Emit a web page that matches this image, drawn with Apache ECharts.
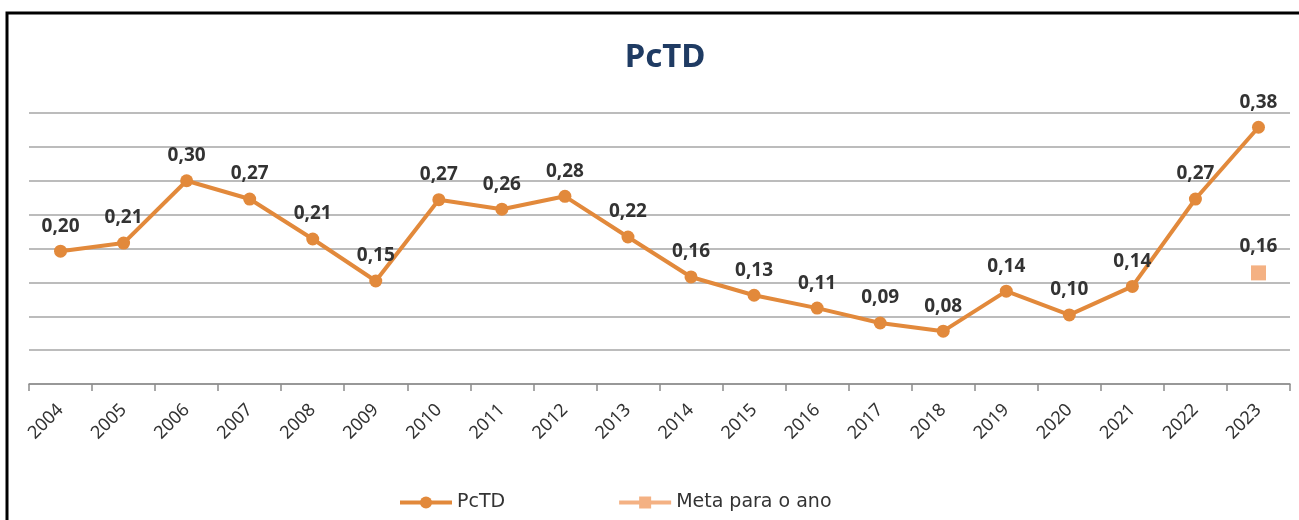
<!DOCTYPE html>
<html>
<head>
<meta charset="utf-8">
<title>PcTD</title>
<script src="https://cdn.jsdelivr.net/npm/echarts@6/dist/echarts.min.js"></script>
<style>
	html, body { margin: 0; padding: 0; background: #fff; }
	#chart { width: 1299px; height: 520px; }
</style>
</head>
<body>
<div id="chart"></div>
<script>
	var anos = ["2004", "2005", "2006", "2007", "2008", "2009", "2010", "2011", "2012", "2013",
		"2014", "2015", "2016", "2017", "2018", "2019", "2020", "2021", "2022", "2023"];
	// valores (rótulos com 2 casas)
	var pctd = [0.196, 0.208, 0.300, 0.273, 0.214, 0.152, 0.272, 0.258, 0.277, 0.217,
		0.158, 0.131, 0.112, 0.090, 0.078, 0.137, 0.102, 0.144, 0.273, 0.379];
	var meta = [null, null, null, null, null, null, null, null, null, null,
		null, null, null, null, null, null, null, null, null, 0.164];

	var fonte = '"Noto Sans", "Open Sans", sans-serif';
	var laranja = '#e2893b';
	var salmao = '#f4b183';

	function fmt(p) {
		return (Math.round(p.value * 100) / 100).toFixed(2).replace('.', ',');
	}

	var rotulo = {
		show: true,
		position: 'top',
		distance: 9,
		formatter: fmt,
		fontFamily: fonte,
		fontWeight: 'bold',
		fontSize: 19,
		color: '#333'
	};

	var chart = echarts.init(document.getElementById('chart'), null, { renderer: 'canvas' });

	var option = {
		backgroundColor: '#fff',
		animation: false,
		title: {
			text: 'PcTD',
			left: 660,
			top: 36,
			textAlign: 'center',
			textStyle: {
				fontFamily: fonte,
				fontWeight: 'bold',
				fontSize: 33,
				color: '#1f3b63'
			}
		},
		graphic: [{
			type: 'rect',
			shape: { x: 7, y: 13, width: 1320, height: 540 },
			style: { fill: 'none', stroke: '#000', lineWidth: 3 },
			silent: true
		}],
		legend: {
			bottom: 3,
			left: 393,
			itemGap: 112,
			itemWidth: 52,
			itemHeight: 15,
			textStyle: { fontFamily: 'Verdana, "DejaVu Sans", sans-serif', fontSize: 19, color: '#333' },
			data: [
				{ name: 'PcTD', lineStyle: { width: 4, color: laranja } },
				{ name: 'Meta para o ano', lineStyle: { width: 4, color: salmao } }
			]
		},
		grid: {
			left: 29,
			right: 9,
			top: 113,
			bottom: 136,
			containLabel: false
		},
		xAxis: {
			type: 'category',
			data: anos,
			boundaryGap: true,
			axisLine: { lineStyle: { color: '#8c8c8c', width: 1.5 } },
			axisTick: { show: true, length: 7, lineStyle: { color: '#8c8c8c', width: 1.5 } },
			axisLabel: {
				rotate: 45,
				margin: 23,
				fontFamily: fonte,
				fontSize: 18,
				color: '#333'
			}
		},
		yAxis: {
			type: 'value',
			min: 0,
			max: 0.4,
			interval: 0.05,
			axisLabel: { show: false },
			axisLine: { show: false },
			axisTick: { show: false },
			splitLine: { lineStyle: { color: '#a6a6a6', width: 1.5 } }
		},
		series: [{
			name: 'PcTD',
			type: 'line',
			data: pctd,
			symbol: 'circle',
			symbolSize: 13,
			itemStyle: { color: laranja },
			lineStyle: { color: laranja, width: 4 },
			label: rotulo
		}, {
			name: 'Meta para o ano',
			type: 'line',
			data: meta,
			symbol: 'rect',
			symbolSize: 15,
			itemStyle: { color: salmao },
			lineStyle: { color: salmao, width: 4 },
			label: rotulo
		}]
	};

	chart.setOption(option);
</script>
</body>
</html>
